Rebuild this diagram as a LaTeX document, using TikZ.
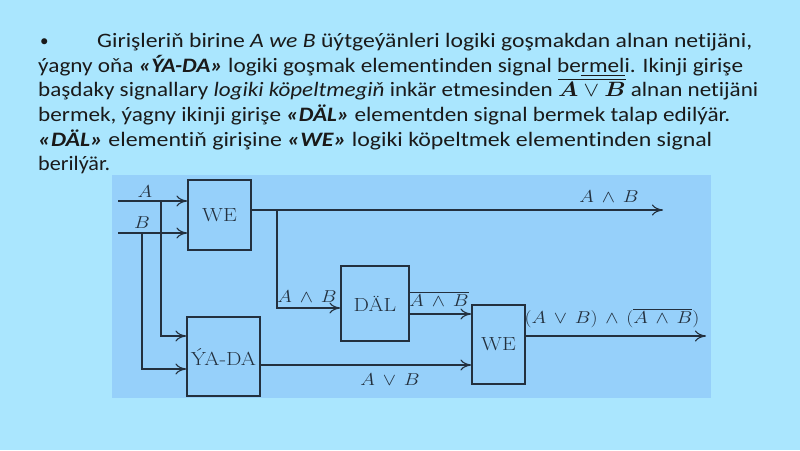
\documentclass[tikz,border=0pt]{standalone}
\usepackage{amsmath}
\usepackage{graphicx}
\usepackage{fontspec}
\newfontfamily\parafont[Ligatures={NoCommon}]{Carlito}
\usetikzlibrary{arrows.meta}
\definecolor{bgc}{RGB}{170,230,254}
\definecolor{panelc}{RGB}{150,208,250}
\definecolor{txtc}{RGB}{26,26,26}
\definecolor{linec}{RGB}{35,48,62}
\newcommand\pline[2]{\resizebox{#1pt}{\height}{#2}}
\newcommand\hst[1]{\scalebox{1.15}[1]{#1}}
\tikzset{
  para/.style={anchor=base west, inner sep=0pt, text=txtc, font=\parafont\fontsize{20.5}{24}\selectfont},
  blk/.style={draw=linec, line width=1.2pt, inner sep=0pt, text=linec, font=\fontsize{19}{22}\selectfont},
  wire/.style={draw=linec, line width=1.2pt},
  arr/.style={wire, -{Computer Modern Rightarrow[length=11pt,width=11pt,line width=1.1pt]}},
  lbl/.style={inner sep=0pt, text=linec, font=\fontsize{16}{19}\selectfont}
}
\begin{document}
\begin{tikzpicture}[x=1pt,y=-1pt]
\fill[bgc] (0,0) rectangle (800,450);
\useasboundingbox (0,0) rectangle (800,450);
% paragraph
\node[para, font=\parafont\fontsize{17}{20}\selectfont] (bul) at (40,46) {•};
\node[para] (l1) at (97,47) {\pline{655}{Girişleriň birine \textit{A we B} üýtgeýänleri logiki goşmakdan alnan netijäni,}};
\node[para] (l2) at (38,72) {\pline{705}{ýagny oňa \textbf{\textit{«ÝA-DA»}} logiki goşmak elementinden signal be\underline{rmel}i. Ikinji girişe}};
\node[para] (l3) at (38,96.5) {\pline{720}{başdaky signallary \textit{logiki köpeltmegiň} inkär etmesinden $\overline{\boldsymbol{A}\vee\boldsymbol{B}}$ alnan netijäni}};
\node[para] (l4) at (38,121) {\pline{692}{bermek, ýagny ikinji girişe \textbf{\textit{«DÄL»}} elementden signal bermek talap edilýär.}};
\node[para] (l5) at (38,146) {\pline{674}{\textbf{\textit{«DÄL»}} elementiň girişine \textbf{\textit{«WE»}} logiki köpeltmek elementinden signal}};
\node[para] (l6) at (38,170) {\pline{72}{berilýär.}};
% panel
\fill[panelc] (112,175) rectangle (711,398);
% blocks
\node[blk, minimum width=63pt, minimum height=70pt] (we1) at (219.5,215) {\hst{WE}};
\node[blk, minimum width=73pt, minimum height=79pt] (yada) at (223.5,356.5) {\hst{ÝA-DA}};
\node[blk, minimum width=68pt, minimum height=75pt] (dal) at (375,303.5) {\hst{DÄL}};
\node[blk, minimum width=53pt, minimum height=79pt] (we2) at (498.5,344.5) {\hst{WE}};
% coordinates
\coordinate (inA) at (118,201);
\coordinate (inB) at (118,233);
\coordinate (jA) at (161,201);
\coordinate (jB) at (142,233);
\coordinate (oW) at (251,210);
\coordinate (jW) at (277,210);
\coordinate (endW) at (663,210);
\coordinate (oD) at (409,314);
\coordinate (oY) at (260,365);
\coordinate (oW2) at (525,336);
\coordinate (endW2) at (706,336);
% wires
\draw[arr] (inA) -- (inA -| we1.west);
\draw[arr] (inB) -- (inB -| we1.west);
\draw[arr] (jA) -- (161,336) -- (yada.west |- 0,336);
\draw[arr] (jB) -- (142,369) -- (yada.west |- 0,369);
\draw[arr] (oW) -- (endW);
\draw[arr] (jW) -- (277,308) -- (dal.west |- 0,308);
\draw[arr] (oD) -- (we2.west |- oD);
\draw[arr] (oY) -- (we2.west |- oY);
\draw[arr] (oW2) -- (endW2);
% labels
\node[lbl] (la) at (145,192) {\hst{$A$}};
\node[lbl] (lb) at (142,223) {\hst{$B$}};
\node[lbl] (lab1) at (609,197) {\hst{$A\,\wedge\,B$}};
\node[lbl] (lab2) at (307,297) {\hst{$A\,\wedge\,B$}};
\node[lbl] (lnab) at (439,299) {\hst{$\overline{A\,\wedge\,B}$}};
\node[lbl] (lavb) at (390,380) {\hst{$A\,\vee\,B$}};
\node[lbl] (lres) at (612,318) {\hst{$(A\,\vee\,B)\,\wedge\,(\overline{A\,\wedge\,B})$}};
\end{tikzpicture}
\end{document}
